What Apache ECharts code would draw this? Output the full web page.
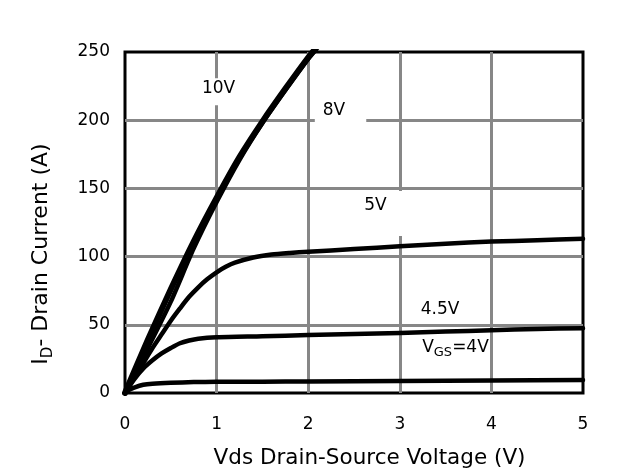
<!DOCTYPE html>
<html>
<head>
<meta charset="utf-8">
<script src="https://cdn.jsdelivr.net/npm/echarts@6/dist/echarts.min.js"></script>
<style>html,body{margin:0;padding:0;background:#fff}#c{width:634px;height:474px}</style>
</head>
<body>
<div id="c"></div>
<script>
// ---- data ----
const xTicks = [0, 1, 2, 3, 4, 5];
const yTicks = [0, 50, 100, 150, 200, 250];

const vds10 = [0, 0.25, 0.5, 0.75, 1.0, 1.25, 1.5, 1.75, 2.0, 2.1];
const id10  = [0, 39, 76, 111, 143, 173, 199, 223, 246, 254];

const vds8 = [0, 0.25, 0.5, 0.75, 1.0, 1.25, 1.5, 1.75, 2.0, 2.1];
const id8  = [0, 33, 67, 106, 140, 171, 198, 222, 245, 253];

const vds5 = [0, 0.1, 0.2, 0.3, 0.4, 0.5, 0.6, 0.7, 0.8, 0.9, 1.0, 1.1, 1.2, 1.4, 1.6, 1.8, 2.0, 2.5, 3.0, 3.5, 4.0, 4.5, 5.0];
const id5  = [0, 11, 22, 33, 43, 53, 62, 70.5, 77.5, 83.5, 88.5, 92.5, 95.5, 99.3, 101.5, 102.7, 103.6, 105.5, 107.5, 109.5, 111, 112, 113];

const vds45 = [0, 0.1, 0.2, 0.3, 0.4, 0.5, 0.6, 0.7, 0.8, 1.0, 1.5, 2.0, 2.5, 3.0, 3.5, 4.0, 4.5, 5.0];
const id45  = [0, 10, 18, 24, 29, 33, 36.5, 38.5, 39.8, 40.8, 41.6, 42.5, 43.2, 44, 45, 46, 47, 47.5];

const vds4 = [0, 0.05, 0.1, 0.2, 0.3, 0.5, 0.75, 1.0, 1.5, 2.0, 3.0, 4.0, 5.0];
const id4  = [0, 2.5, 4, 6, 6.8, 7.5, 8, 8.2, 8.3, 8.4, 8.8, 9.2, 9.6];

const curveLabels = ['10V', '8V', '5V', '4.5V', '{a|V}{s|GS}{a|=4V}'];

// ---- chart ----
const FONT = 'DejaVu Sans';
const zip = (xs, ys) => xs.map((x, i) => [x, ys[i]]);

function curve(name, xs, ys, width) {
  return {
    type: 'line', name: name, data: zip(xs, ys),
    symbol: 'none', smooth: 0.25, clip: true, silent: true, z: 3,
    lineStyle: { color: '#000', width: width, join: 'round', cap: 'round' }
  };
}

// label anchors (data coords) and white mask padding [top,right,bottom,left]
const labelCfg = [
  { at: [1.021, 223.4], pad: [0, 3, 7, 3], bg: true },
  { at: [2.282, 207.4], pad: [0, 21, 3, 8], bg: true },
  { at: [2.735, 137.4], pad: [4.5, 16, 20.5, 1], bg: true },
  { at: [3.439, 61.5], pad: [0, 0, 0, 0], bg: false },
  { at: [3.608, 32.3], pad: [0, 0, 0, 0], bg: false }
];

const labelItems = labelCfg.map((c, i) => ({
  value: c.at,
  label: {
    formatter: curveLabels[i],
    padding: c.pad,
    backgroundColor: c.bg ? '#fff' : 'transparent',
    offset: [(c.pad[1] - c.pad[3]) / 2, (c.pad[2] - c.pad[0]) / 2]
  }
}));

const chart = echarts.init(document.getElementById('c'), null, { renderer: 'canvas' });
chart.setOption({
  animation: false,
  backgroundColor: '#fff',
  grid: { left: 125, right: 51, top: 52, bottom: 79, show: true, borderColor: '#000', borderWidth: 3, backgroundColor: 'transparent' },
  xAxis: {
    type: 'value', min: xTicks[0], max: xTicks[xTicks.length - 1], interval: xTicks[1] - xTicks[0],
    axisLine: { show: false }, axisTick: { show: false },
    axisLabel: { fontSize: 17, fontFamily: FONT, color: '#000', margin: 23 },
    splitLine: { show: true, showMinLine: false, showMaxLine: false, lineStyle: { color: '#878787', width: 3 } },
    name: 'Vds Drain-Source Voltage (V)', nameLocation: 'middle', nameGap: 54,
    nameTextStyle: { fontSize: 21.5, fontFamily: FONT, color: '#000', padding: [0, 0, 0, 31] }
  },
  yAxis: {
    type: 'value', min: yTicks[0], max: yTicks[yTicks.length - 1], interval: yTicks[1] - yTicks[0],
    axisLine: { show: false }, axisTick: { show: false },
    axisLabel: { fontSize: 17, fontFamily: FONT, color: '#000', margin: 15 },
    splitLine: { show: true, showMinLine: false, showMaxLine: false, lineStyle: { color: '#878787', width: 3 } },
    name: '{a|I}{s|D}{a|- Drain Current (A)}', nameLocation: 'middle', nameGap: 69,
    nameTextStyle: {
      color: '#000', padding: [0, 63, 0, 0],
      rich: {
        a: { fontSize: 22, fontFamily: FONT, color: '#000', lineHeight: 26, verticalAlign: 'top' },
        s: { fontSize: 15, fontFamily: FONT, color: '#000', lineHeight: 15, verticalAlign: 'top', padding: [10.5, 0, 0, 0] }
      }
    }
  },
  series: [
    curve('10V', vds10, id10, 6),
    curve('8V', vds8, id8, 4.5),
    curve('5V', vds5, id5, 4.5),
    curve('4.5V', vds45, id45, 4.5),
    curve('4V', vds4, id4, 4.5),
    {
      type: 'scatter', data: labelItems, symbolSize: 0, silent: true, z: 4,
      itemStyle: { opacity: 1, color: '#000' },
      label: {
        show: true, position: 'inside', align: 'center', verticalAlign: 'middle',
        fontSize: 17, fontFamily: FONT, color: '#000', lineHeight: 20, opacity: 1,
        rich: {
          a: { fontSize: 17, fontFamily: FONT, color: '#000', lineHeight: 20, verticalAlign: 'top' },
          s: { fontSize: 13, fontFamily: FONT, color: '#000', lineHeight: 13, verticalAlign: 'top', padding: [7, 0, 0, 0] }
        }
      }
    }
  ]
});
</script>
</body>
</html>
